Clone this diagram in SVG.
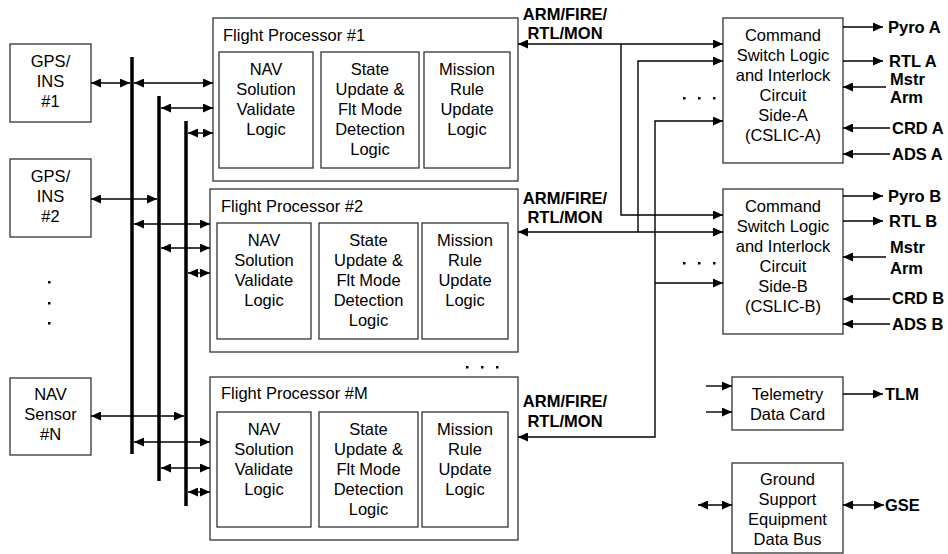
<svg xmlns="http://www.w3.org/2000/svg" width="948" height="554" viewBox="0 0 948 554">
<defs>
<style>
.box{fill:#fff;stroke:#333;stroke-width:1.3}
.t{font-family:"Liberation Sans",Arial,Helvetica,sans-serif;font-size:16.5px;fill:#000;text-anchor:middle}
.s{text-anchor:start}
.b{font-weight:bold}
.ln{stroke:#000;stroke-width:1.4;fill:none}
.da{marker-start:url(#ah);marker-end:url(#ah)}
.sa{marker-end:url(#ah)}
.bus{stroke:#000;stroke-width:3.5}
.dot{fill:#000}
</style>
<marker id="ah" viewBox="0 0 10 9" refX="10" refY="4.5" markerWidth="10" markerHeight="9" markerUnits="userSpaceOnUse" orient="auto-start-reverse">
<path d="M0,0 L10,4.5 L0,9 z" fill="#000"/>
</marker>
</defs>
<rect width="948" height="554" fill="#fff"/>

<g id="gps1">
<rect class="box" x="10" y="44" width="81" height="78"/>
<text class="t" x="50.5" y="67">GPS/</text>
<text class="t" x="50.5" y="87">INS</text>
<text class="t" x="50.5" y="107">#1</text>
</g>
<g id="gps2">
<rect class="box" x="10" y="159" width="81" height="78"/>
<text class="t" x="50.5" y="182">GPS/</text>
<text class="t" x="50.5" y="202">INS</text>
<text class="t" x="50.5" y="222">#2</text>
</g>
<g id="sensor-dots">
<rect class="dot" x="48" y="281" width="2.5" height="2.5"/>
<rect class="dot" x="48" y="302" width="2.5" height="2.5"/>
<rect class="dot" x="48" y="322" width="2.5" height="2.5"/>
</g>
<g id="navN">
<rect class="box" x="10" y="378" width="81" height="77"/>
<text class="t" x="50.5" y="400">NAV</text>
<text class="t" x="50.5" y="420">Sensor</text>
<text class="t" x="50.5" y="440">#N</text>
</g>

<g id="fp1">
<rect class="box" x="213" y="18" width="305" height="163"/>
<text class="t s" x="223" y="41">Flight Processor #1</text>
<rect class="box" x="219" y="52" width="94" height="116"/>
<text class="t" x="266" y="75">NAV</text>
<text class="t" x="266" y="95">Solution</text>
<text class="t" x="266" y="115">Validate</text>
<text class="t" x="266" y="135">Logic</text>
<rect class="box" x="321" y="52" width="98" height="116"/>
<text class="t" x="370" y="75">State</text>
<text class="t" x="370" y="95">Update &amp;</text>
<text class="t" x="370" y="115">Flt Mode</text>
<text class="t" x="370" y="135">Detection</text>
<text class="t" x="370" y="155">Logic</text>
<rect class="box" x="424" y="52" width="86" height="116"/>
<text class="t" x="467" y="75">Mission</text>
<text class="t" x="467" y="95">Rule</text>
<text class="t" x="467" y="115">Update</text>
<text class="t" x="467" y="135">Logic</text>
</g>

<g id="fp2">
<rect class="box" x="210" y="189" width="308" height="163"/>
<text class="t s" x="221" y="212">Flight Processor #2</text>
<rect class="box" x="217" y="223" width="94" height="116"/>
<text class="t" x="264" y="246">NAV</text>
<text class="t" x="264" y="266">Solution</text>
<text class="t" x="264" y="286">Validate</text>
<text class="t" x="264" y="306">Logic</text>
<rect class="box" x="319" y="223" width="99" height="116"/>
<text class="t" x="368.5" y="246">State</text>
<text class="t" x="368.5" y="266">Update &amp;</text>
<text class="t" x="368.5" y="286">Flt Mode</text>
<text class="t" x="368.5" y="306">Detection</text>
<text class="t" x="368.5" y="326">Logic</text>
<rect class="box" x="422" y="223" width="86" height="116"/>
<text class="t" x="465" y="246">Mission</text>
<text class="t" x="465" y="266">Rule</text>
<text class="t" x="465" y="286">Update</text>
<text class="t" x="465" y="306">Logic</text>
</g>

<g id="fp-dots">
<rect class="dot" x="466" y="366" width="2.5" height="2.5"/>
<rect class="dot" x="481" y="366" width="2.5" height="2.5"/>
<rect class="dot" x="496" y="366" width="2.5" height="2.5"/>
</g>

<g id="fpM">
<rect class="box" x="210" y="377" width="308" height="163"/>
<text class="t s" x="221" y="399">Flight Processor #M</text>
<rect class="box" x="217" y="412" width="94" height="115"/>
<text class="t" x="264" y="435">NAV</text>
<text class="t" x="264" y="455">Solution</text>
<text class="t" x="264" y="475">Validate</text>
<text class="t" x="264" y="495">Logic</text>
<rect class="box" x="319" y="412" width="99" height="115"/>
<text class="t" x="368.5" y="435">State</text>
<text class="t" x="368.5" y="455">Update &amp;</text>
<text class="t" x="368.5" y="475">Flt Mode</text>
<text class="t" x="368.5" y="495">Detection</text>
<text class="t" x="368.5" y="515">Logic</text>
<rect class="box" x="422" y="412" width="86" height="115"/>
<text class="t" x="465" y="435">Mission</text>
<text class="t" x="465" y="455">Rule</text>
<text class="t" x="465" y="475">Update</text>
<text class="t" x="465" y="495">Logic</text>
</g>

<g id="cslicA">
<rect class="box" x="723" y="18" width="120" height="145"/>
<text class="t" x="783" y="41">Command</text>
<text class="t" x="783" y="61">Switch Logic</text>
<text class="t" x="783" y="81">and Interlock</text>
<text class="t" x="783" y="101">Circuit</text>
<text class="t" x="783" y="121">Side-A</text>
<text class="t" x="783" y="141">(CSLIC-A)</text>
</g>
<g id="cslicB">
<rect class="box" x="723" y="189" width="120" height="145"/>
<text class="t" x="783" y="212">Command</text>
<text class="t" x="783" y="232">Switch Logic</text>
<text class="t" x="783" y="252">and Interlock</text>
<text class="t" x="783" y="272">Circuit</text>
<text class="t" x="783" y="292">Side-B</text>
<text class="t" x="783" y="312">(CSLIC-B)</text>
</g>
<g id="cslic-dots">
<rect class="dot" x="683" y="97" width="2.5" height="2.5"/>
<rect class="dot" x="698" y="97" width="2.5" height="2.5"/>
<rect class="dot" x="713" y="97" width="2.5" height="2.5"/>
<rect class="dot" x="683" y="262" width="2.5" height="2.5"/>
<rect class="dot" x="698" y="262" width="2.5" height="2.5"/>
<rect class="dot" x="713" y="262" width="2.5" height="2.5"/>
</g>

<g id="telemetry">
<rect class="box" x="732" y="377" width="111" height="53"/>
<text class="t" x="787.5" y="400">Telemetry</text>
<text class="t" x="787.5" y="420">Data Card</text>
</g>
<g id="gse-bus">
<rect class="box" x="732" y="463" width="111" height="90"/>
<text class="t" x="787.5" y="485">Ground</text>
<text class="t" x="787.5" y="505">Support</text>
<text class="t" x="787.5" y="525">Equipment</text>
<text class="t" x="787.5" y="545">Data Bus</text>
</g>

<g id="connectors">
<line class="bus" x1="132" y1="57" x2="132" y2="454"/>
<line class="bus" x1="159" y1="96" x2="159" y2="481"/>
<line class="bus" x1="186" y1="121" x2="186" y2="506"/>

<line class="ln da" x1="91" y1="83" x2="130" y2="83"/>
<line class="ln da" x1="134" y1="83" x2="213" y2="83"/>
<line class="ln da" x1="161" y1="108" x2="213" y2="108"/>
<line class="ln da" x1="188" y1="133" x2="213" y2="133"/>
<line class="ln da" x1="91" y1="199" x2="157" y2="199"/>
<line class="ln da" x1="134" y1="224" x2="210" y2="224"/>
<line class="ln da" x1="161" y1="248" x2="210" y2="248"/>
<line class="ln da" x1="188" y1="273" x2="210" y2="273"/>
<line class="ln da" x1="91" y1="416" x2="184" y2="416"/>
<line class="ln da" x1="134" y1="442" x2="210" y2="442"/>
<line class="ln da" x1="161" y1="468" x2="210" y2="468"/>
<line class="ln da" x1="188" y1="492" x2="210" y2="492"/>

<line class="ln da" x1="518" y1="44" x2="723" y2="44"/>
<polyline class="ln sa" points="621,44 621,215 723,215"/>
<line class="ln da" x1="518" y1="232" x2="723" y2="232"/>
<polyline class="ln sa" points="638,232 638,61 723,61"/>
<polyline class="ln da" points="518,437 655,437 655,121 723,121"/>
<line class="ln sa" x1="655" y1="283" x2="723" y2="283"/>

<line class="ln sa" x1="843" y1="27" x2="883" y2="27"/>
<line class="ln sa" x1="843" y1="61" x2="883" y2="61"/>
<line class="ln sa" x1="886" y1="87" x2="843" y2="87"/>
<line class="ln sa" x1="890" y1="128" x2="843" y2="128"/>
<line class="ln sa" x1="890" y1="154" x2="843" y2="154"/>
<line class="ln sa" x1="843" y1="196" x2="883" y2="196"/>
<line class="ln sa" x1="843" y1="221" x2="883" y2="221"/>
<line class="ln sa" x1="886" y1="257" x2="843" y2="257"/>
<line class="ln sa" x1="890" y1="299" x2="843" y2="299"/>
<line class="ln sa" x1="890" y1="324" x2="843" y2="324"/>

<line class="ln sa" x1="706" y1="386" x2="732" y2="386"/>
<line class="ln sa" x1="706" y1="412" x2="732" y2="412"/>
<line class="ln sa" x1="843" y1="394" x2="883" y2="394"/>
<line class="ln da" x1="698" y1="505" x2="732" y2="505"/>
<line class="ln da" x1="843" y1="505" x2="884" y2="505"/>
</g>

<g id="labels">
<text class="t b" x="565" y="20">ARM/FIRE/</text>
<text class="t b" x="565" y="39">RTL/MON</text>
<text class="t b" x="565" y="204">ARM/FIRE/</text>
<text class="t b" x="565" y="223">RTL/MON</text>
<text class="t b" x="565" y="407">ARM/FIRE/</text>
<text class="t b" x="565" y="427">RTL/MON</text>

<text class="t s b" x="888" y="33">Pyro A</text>
<text class="t s b" x="889" y="67">RTL A</text>
<text class="t s b" x="890" y="85">Mstr</text>
<text class="t s b" x="890" y="103">Arm</text>
<text class="t s b" x="892" y="134">CRD A</text>
<text class="t s b" x="892" y="160">ADS A</text>

<text class="t s b" x="888" y="202">Pyro B</text>
<text class="t s b" x="889" y="227">RTL B</text>
<text class="t s b" x="890" y="253">Mstr</text>
<text class="t s b" x="890" y="274">Arm</text>
<text class="t s b" x="892" y="304">CRD B</text>
<text class="t s b" x="892" y="330">ADS B</text>

<text class="t s b" x="885" y="400">TLM</text>
<text class="t s b" x="885" y="511">GSE</text>
</g>
</svg>
